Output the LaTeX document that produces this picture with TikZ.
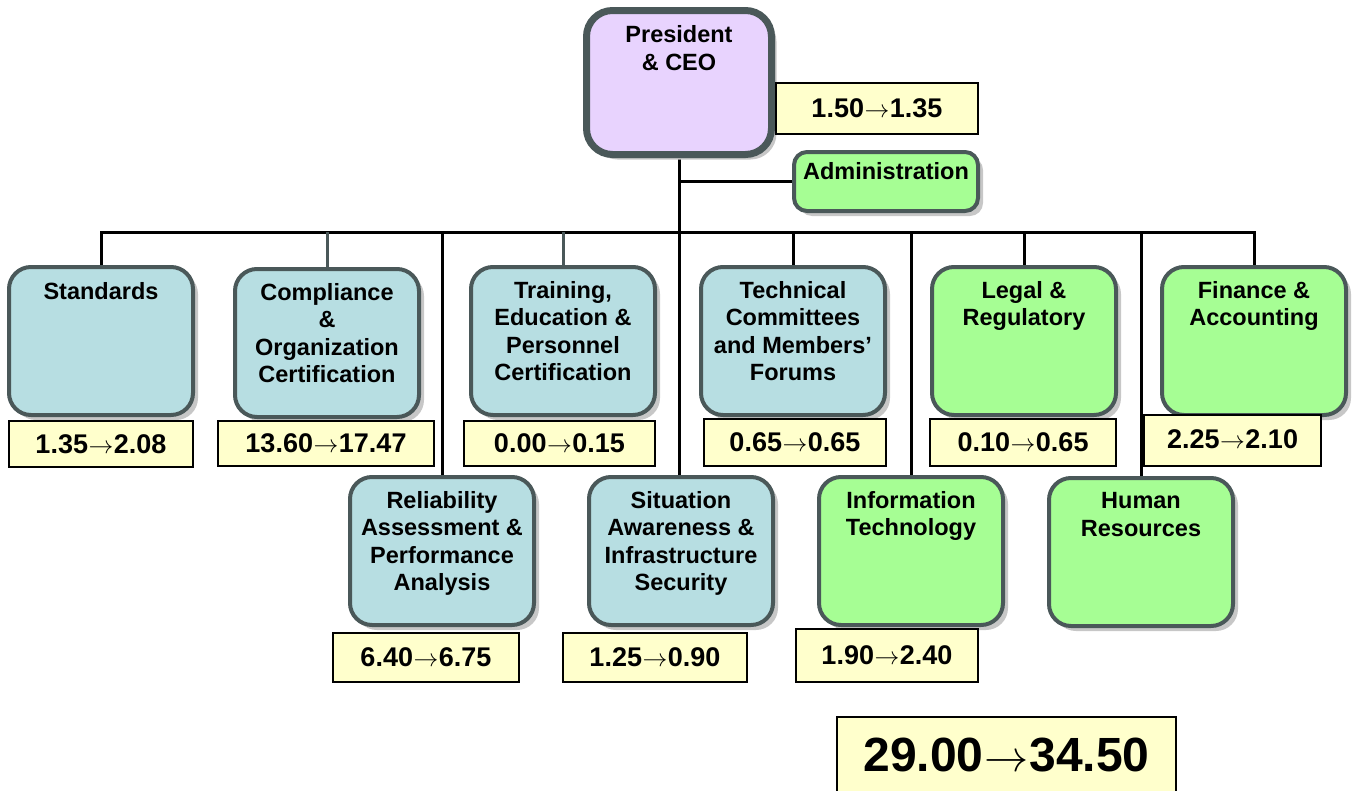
\documentclass[tikz,border=0pt]{standalone}
\usepackage{fontspec}
\setmainfont{Liberation Sans}
\usetikzlibrary{shadows}
\definecolor{orgblue}{HTML}{B7DEE2}
\definecolor{orggreen}{HTML}{A6FE94}
\definecolor{orglav}{HTML}{E8D3FE}
\definecolor{valyellow}{HTML}{FFFFCC}
\definecolor{edge}{HTML}{4A5859}
\newcommand\myarrow{\kern0.02em\resizebox{0.92em}{!}{$\rightarrow$}\kern0.02em}
\pgfdeclarelayer{background}
\pgfsetlayers{background,main}
\begin{document}
\begin{tikzpicture}[x=1pt,y=-1pt,
  orgbox/.style={draw=edge, line width=4pt, rounded corners=22pt, anchor=north west,
    inner sep=0pt, outer sep=0pt, minimum width=184pt, minimum height=148pt,
    drop shadow={shadow xshift=5pt,shadow yshift=-5pt,fill=black!22,opacity=1}},
  bluebox/.style={orgbox, fill=orgblue},
  greenbox/.style={orgbox, fill=orggreen},
  lbl/.style={font=\fontsize{23.5}{27.5}\selectfont\bfseries, align=center, inner sep=0pt, anchor=north},
  valbox/.style={draw=black, line width=2pt, fill=valyellow, anchor=north west, inner sep=0pt,
    outer sep=0pt, font=\fontsize{27}{30}\selectfont\bfseries},
  wire/.style={line width=3pt, draw=black},
  graywire/.style={line width=3pt, draw=edge}]
\useasboundingbox (0,0) rectangle (1355,790);

% org boxes
\node[orgbox, fill=orglav, line width=7pt, rounded corners=26pt, minimum width=185pt, minimum height=144pt] (pres) at (586.5,10.5) {};
\node[greenbox, rounded corners=13pt, minimum height=59pt] (admin) at (794,152) {};
\node[bluebox] (std) at (9,267) {};
\node[bluebox] (comp) at (235,269) {};
\node[bluebox] (train) at (471,267) {};
\node[bluebox] (tech) at (701,267) {};
\node[greenbox] (legal) at (932,267) {};
\node[greenbox] (fin) at (1162,267) {};
\node[bluebox] (rel) at (350,477) {};
\node[bluebox] (sit) at (589,477) {};
\node[greenbox] (it) at (819,477) {};
\node[greenbox] (hr) at (1049,478) {};

% labels
\node[lbl] (pres-t) at ([yshift=-15pt]pres.north) {President\\\& CEO};
\node[lbl] (admin-t) at ([yshift=-10pt]admin.north) {Administration};
\node[lbl] (std-t) at ([yshift=-15pt]std.north) {Standards};
\node[lbl] (comp-t) at ([yshift=-14pt]comp.north) {Compliance\\\&\\Organization\\Certification};
\node[lbl] (train-t) at ([yshift=-14pt]train.north) {Training,\\Education \&\\Personnel\\Certification};
\node[lbl] (tech-t) at ([yshift=-14pt]tech.north) {Technical\\Committees\\and Members’\\Forums};
\node[lbl] (legal-t) at ([yshift=-14pt]legal.north) {Legal \&\\Regulatory};
\node[lbl] (fin-t) at ([yshift=-14pt]fin.north) {Finance \&\\Accounting};
\node[lbl] (rel-t) at ([yshift=-14pt]rel.north) {Reliability\\Assessment \&\\Performance\\Analysis};
\node[lbl] (sit-t) at ([yshift=-14pt]sit.north) {Situation\\Awareness \&\\Infrastructure\\Security};
\node[lbl] (it-t) at ([yshift=-14pt]it.north) {Information\\Technology};
\node[lbl] (hr-t) at ([yshift=-14.5pt]hr.north) {Human\\Resources};

% value boxes
\node[valbox, minimum width=202pt, minimum height=51pt] (pres-v) at (776,83) {1.50\myarrow1.35};
\node[valbox, minimum width=184pt, minimum height=46pt] (std-v) at (9,421) {1.35\myarrow2.08};
\node[valbox, minimum width=216pt, minimum height=45pt] (comp-v) at (218,421) {13.60\myarrow17.47};
\node[valbox, minimum width=191pt, minimum height=45pt] (train-v) at (464,421) {0.00\myarrow0.15};
\node[valbox, minimum width=182pt, minimum height=47pt] (tech-v) at (704,419) {0.65\myarrow0.65};
\node[valbox, minimum width=186pt, minimum height=47pt] (legal-v) at (930,419) {0.10\myarrow0.65};
\node[valbox, minimum width=177pt, minimum height=51pt] (fin-v) at (1144,415) {\raisebox{2pt}{2.25\myarrow2.10}};
\node[valbox, minimum width=186pt, minimum height=49pt] (rel-v) at (333,633) {6.40\myarrow6.75};
\node[valbox, minimum width=184pt, minimum height=49pt] (sit-v) at (563,633) {1.25\myarrow0.90};
\node[valbox, minimum width=182pt, minimum height=53pt] (it-v) at (796,629) {1.90\myarrow2.40};
\node[valbox, minimum width=339pt, minimum height=76pt, font=\fontsize{48}{52}\selectfont\bfseries] (total) at (837,717) {29.00\myarrow34.50};

% connectors
\coordinate (bus) at (0,232);
\begin{pgfonlayer}{background}
\draw[wire] (pres.south) -- (pres.south |- sit.north);
\draw[wire] (admin.west) -- (admin.west -| pres.south);
\draw[wire, line cap=rect] (std.north |- bus) -- (fin.north |- bus);
\draw[wire] (std.north) -- (std.north |- bus);
\draw[graywire] (comp.north) -- (comp.north |- bus);
\draw[wire] (rel.north) -- (rel.north |- bus);
\draw[graywire] (train.north) -- (train.north |- bus);
\draw[wire] (tech.north) -- (tech.north |- bus);
\draw[wire] (it.north) -- (it.north |- bus);
\draw[wire] (legal.north) -- (legal.north |- bus);
\draw[wire] (hr.north) -- (hr.north |- bus);
\draw[wire] (fin.north) -- (fin.north |- bus);
\end{pgfonlayer}
\end{tikzpicture}
\end{document}
